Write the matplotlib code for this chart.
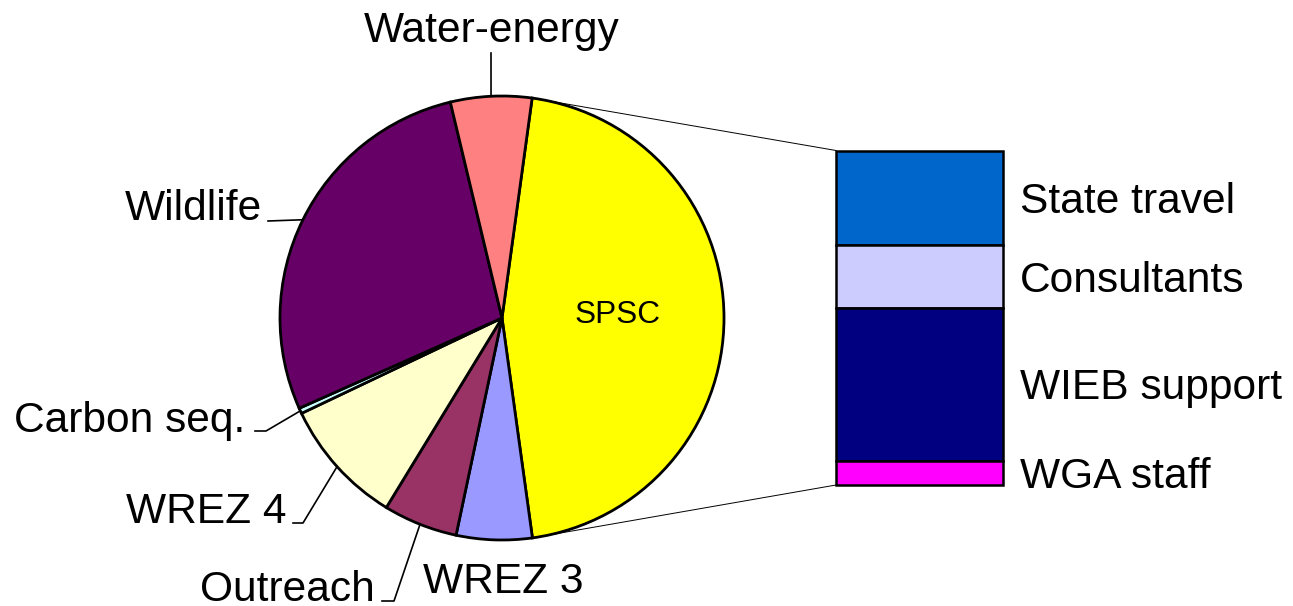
"""Pie with a bar-of-pie breakdown of the SPSC slice"""
import numpy as np
import matplotlib
matplotlib.use("Agg")
import matplotlib.pyplot as plt

plt.rcParams["font.family"] = ["Liberation Sans", "DejaVu Sans"]

# pie slices, clockwise from the top
pie_labels = ["SPSC", "WREZ 3", "Outreach", "WREZ 4", "Carbon seq.", "Wildlife", "Water-energy"]
pie_values = [45.6, 5.5, 5.4, 9.2, 0.4, 27.9, 5.9]
pie_colors = ["#FFFF00", "#9999FF", "#993366", "#FFFFCC", "#CCFFFF", "#660066", "#FF8080"]

# breakdown of SPSC, top to bottom
bar_labels = ["State travel", "Consultants", "WIEB support", "WGA staff"]
bar_values = [28.3, 18.7, 45.9, 7.2]
bar_colors = ["#0066CC", "#CCCCFF", "#000080", "#FF00FF"]

W, H = 1293, 606
FS = 30.6
CAP = 0.716 * FS * 100 / 72  # cap height in px


def Y(y):
    # picture y (down) -> axes y (up)
    return H - y


fig = plt.figure(figsize=(W / 100, H / 100), dpi=100)
ax = fig.add_axes([0, 0, 1, 1])

cx, cy, r = 502, Y(318), 222
start = 82.2
wedges, _ = ax.pie(pie_values, colors=pie_colors, startangle=start, counterclock=False,
                   center=(cx, cy), radius=r,
                   wedgeprops=dict(edgecolor="black", linewidth=2.0))


def rim(w):
    a = np.deg2rad((w.theta1 + w.theta2) / 2)
    return cx + r * np.cos(a), cy + r * np.sin(a)


# stacked bar for the SPSC detail
bx0, bx1 = 836, 1003
btop, bbot = Y(150.5), Y(485)
scale = (btop - bbot) / sum(bar_values)
top = btop
for lab, v, c in zip(bar_labels, bar_values, bar_colors):
    h = v * scale
    ax.bar((bx0 + bx1) / 2, h, width=bx1 - bx0, bottom=top - h, color=c,
           edgecolor="black", linewidth=1.8)
    ax.text(1020, top - h / 2 - CAP / 2, lab, fontsize=FS, ha="left", va="baseline")
    top -= h

# connector lines from SPSC slice to the bar
frac = pie_values[0] / sum(pie_values)
a1 = np.deg2rad(start)
a2 = np.deg2rad(start - 360 * frac)
ax.plot([cx + r * np.cos(a1), bx0], [cy + r * np.sin(a1), btop], color="black", lw=0.7)
ax.plot([cx + r * np.cos(a2), bx0], [cy + r * np.sin(a2), bbot], color="black", lw=0.7)

# labels: text x, baseline, align, leader elbow points
layout = {
    "Water-energy": (492, 42, "center", [(491, 53)]),
    "Wildlife": (262, 220, "right", [(268, 221)]),
    "Carbon seq.": (245, 432, "right", [(255, 431), (266, 431)]),
    "WREZ 4": (287, 523, "right", [(293, 523), (303, 523)]),
    "Outreach": (375, 601, "right", [(382, 601), (394, 601)]),
    "WREZ 3": (423, 593, "left", []),
}
for w, lab in zip(wedges, pie_labels):
    if lab == "SPSC":
        ax.text(618, Y(323), lab, fontsize=22.7, ha="center", va="baseline")
        continue
    x, base, ha, pts = layout[lab]
    ax.text(x, Y(base), lab, fontsize=FS, ha=ha, va="baseline")
    if pts:
        xs = [p[0] for p in pts] + [rim(w)[0]]
        ys = [Y(p[1]) for p in pts] + [rim(w)[1]]
        ax.plot(xs, ys, color="black", lw=1.2)

ax.set_xlim(0, W)
ax.set_ylim(0, H)
ax.set_aspect("equal")
ax.axis("off")
fig.savefig("out.png", dpi=100, facecolor="white")
